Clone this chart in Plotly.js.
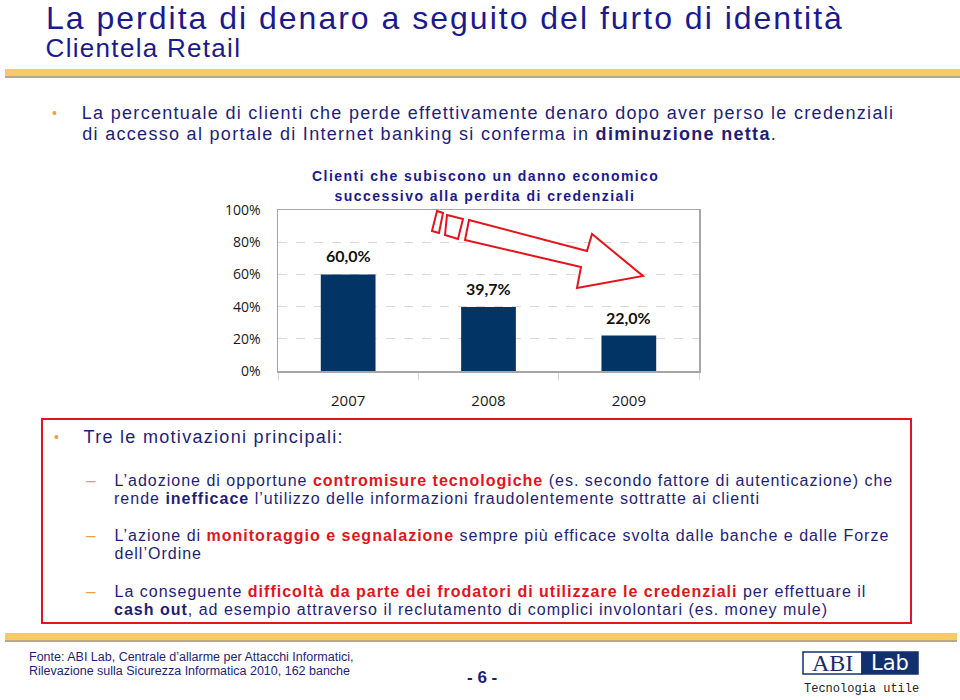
<!DOCTYPE html>
<html><head><meta charset="utf-8">
<script src="https://cdn.plot.ly/plotly-3.0.1.min.js"></script>
<style>
html,body{margin:0;padding:0;background:#fff}
#chart{width:960px;height:700px}
</style>
</head><body><div id="chart"></div>
<script>
// ---------- data ----------
const years = ['2007', '2008', '2009'];
const values = [60.0, 39.7, 22.0];
const yTickVals = [0, 20, 40, 60, 80, 100];
const yTickLabels = ['0%', '20%', '40%', '60%', '80%', '100%'];
const chartTitleLines = ['Clienti che subiscono un danno economico', 'successivo alla perdita di credenziali'];
const slideTitle = 'La perdita di denaro a seguito del furto di identità';
const slideSubtitle = 'Clientela Retail';
const footerLines = ['Fonte: ABI Lab, Centrale d’allarme per Attacchi Informatici,', 'Rilevazione sulla Sicurezza Informatica 2010, 162 banche'];
const pageNumber = '- 6 -';

// ---------- helpers ----------
const W = 960, H = 700;
const px = x => x / W;
const py = y => 1 - y / H;
const NAVY = '#1e1e7a', TITLE = '#1a1a8e', RED = '#e3141b', ORANGE = '#f0a040';
const red = s => `<b><span style="color:${RED}">${s}</span></b>`;

const annotations = [];
const spacing = [];
function txt(x, y, text, font, opts = {}, ls = 0) {
  annotations.push(Object.assign({
    xref: 'paper', yref: 'paper', x: px(x), y: py(y), text: text,
    showarrow: false, xanchor: 'left', yanchor: 'middle', font: font, borderpad: 0
  }, opts));
  spacing.push(ls);
}
const SANS = 'Liberation Sans, Arial, sans-serif';
const body = (size, color) => ({family: SANS, size: size, color: color || NAVY});

// slide title
txt(46, 18, slideTitle, {family: SANS, size: 32, color: TITLE}, {}, 2.0);
txt(46, 48, slideSubtitle, {family: SANS, size: 26, color: TITLE}, {}, 1.3);

// first bullet
txt(51, 113, '•', body(14, ORANGE));
txt(82, 113, 'La percentuale di clienti che perde effettivamente denaro dopo aver perso le credenziali', body(18), {}, 1.3);
txt(82, 134, 'di accesso al portale di Internet banking si conferma in <b>diminuzione netta</b>.', body(18), {}, 1.3);

// chart title
txt(485, 176, '<b>' + chartTitleLines[0] + '</b>', {family: SANS, size: 14, color: TITLE}, {xanchor: 'center'}, 1.45);
txt(485, 196, '<b>' + chartTitleLines[1] + '</b>', {family: SANS, size: 14, color: TITLE}, {xanchor: 'center'}, 1.45);

// second block
txt(53, 437, '•', body(14, ORANGE));
txt(83, 437, 'Tre le motivazioni principali:', body(18), {}, 1.3);
[480, 535, 591].forEach(y => txt(85, y, '–', body(17, ORANGE)));
txt(114, 480, 'L’adozione di opportune ' + red('contromisure tecnologiche') + ' (es. secondo fattore di autenticazione) che', body(16), {}, 1.0);
txt(114, 498, 'rende <b>inefficace</b> l’utilizzo delle informazioni fraudolentemente sottratte ai clienti', body(16), {}, 1.0);
txt(114, 535, 'L’azione di ' + red('monitoraggio e segnalazione') + ' sempre più efficace svolta dalle banche e dalle Forze', body(16), {}, 1.0);
txt(114, 553, 'dell’Ordine', body(16), {}, 1.0);
txt(114, 591, 'La conseguente ' + red('difficoltà da parte dei frodatori di utilizzare le credenziali') + ' per effettuare il', body(16), {}, 1.0);
txt(114, 609, '<b>cash out</b>, ad esempio attraverso il reclutamento di complici involontari (es. money mule)', body(16), {}, 1.0);

// footer
txt(28, 657, footerLines[0], {family: SANS, size: 12.5, color: NAVY});
txt(28, 671, footerLines[1], {family: SANS, size: 12.5, color: NAVY});
txt(482, 677, '<b>' + pageNumber + '</b>', {family: SANS, size: 17, color: NAVY}, {xanchor: 'center'});

// logo text
txt(832, 663, 'ABI', {family: 'Liberation Serif, Times New Roman, serif', size: 24, color: '#1a2a6e'}, {xanchor: 'center'});
txt(890, 663, 'Lab', {family: 'DejaVu Sans, sans-serif', size: 21, color: '#ffffff'}, {xanchor: 'center'});
txt(803, 689, 'Tecnologia utile', {family: 'Liberation Mono, DejaVu Sans Mono, monospace', size: 12, color: '#222222'});

// data labels (positioned from the data arrays through the axes)
years.forEach((yr, i) => {
  annotations.push({
    xref: 'x', yref: 'y', x: i, y: values[i], yanchor: 'bottom', yshift: 7,
    text: '<b>' + values[i].toFixed(1).replace('.', ',') + '%</b>', showarrow: false,
    font: {family: 'Lato, Open Sans, sans-serif', size: 16, color: '#111111'}
  });
  spacing.push(0);
});

// ---------- shapes ----------
const P = pts => 'M' + pts.map(p => px(p[0]).toFixed(5) + ',' + py(p[1]).toFixed(5)).join(' L') + ' Z';
const shapes = [
  {type: 'rect', xref: 'paper', yref: 'paper', x0: px(5), x1: px(960), y0: py(76), y1: py(78), fillcolor: '#b8a888', line: {width: 0}},
  {type: 'rect', xref: 'paper', yref: 'paper', x0: px(5), x1: px(960), y0: py(69), y1: py(76), fillcolor: '#f9c867', line: {width: 0}},
  {type: 'rect', xref: 'paper', yref: 'paper', x0: px(5), x1: px(957), y0: py(640), y1: py(642), fillcolor: '#b8a888', line: {width: 0}},
  {type: 'rect', xref: 'paper', yref: 'paper', x0: px(5), x1: px(957), y0: py(633), y1: py(640), fillcolor: '#f9c867', line: {width: 0}},
  {type: 'rect', xref: 'paper', yref: 'paper', x0: px(42), x1: px(911), y0: py(623), y1: py(419), line: {color: RED, width: 2}},
  {type: 'path', xref: 'paper', yref: 'paper', layer: 'above', fillcolor: '#ffffff', line: {color: RED, width: 2},
   path: P([[469, 220], [587, 251], [592, 234], [643, 276], [577, 288], [581, 267], [465, 240]])},
  {type: 'path', xref: 'paper', yref: 'paper', layer: 'above', fillcolor: '#ffffff', line: {color: RED, width: 2},
   path: P([[437, 211], [443, 213], [439, 233], [432, 231]])},
  {type: 'path', xref: 'paper', yref: 'paper', layer: 'above', fillcolor: '#ffffff', line: {color: RED, width: 2},
   path: P([[447, 215], [463, 219], [458, 239], [445, 235]])},
  {type: 'rect', xref: 'paper', yref: 'paper', x0: px(803), x1: px(862), y0: py(674), y1: py(652), fillcolor: '#ffffff', line: {color: '#13306e', width: 1.5}},
  {type: 'rect', xref: 'paper', yref: 'paper', x0: px(862), x1: px(918), y0: py(674), y1: py(652), fillcolor: '#13306e', line: {color: '#13306e', width: 1.5}}
];

// ---------- plot ----------
const trace = {
  type: 'bar', x: years, y: values, width: 0.39,
  marker: {color: '#023466'}, hoverinfo: 'skip'
};

const layout = {
  width: W, height: H,
  margin: {l: 0, r: 0, t: 0, b: 0},
  paper_bgcolor: '#ffffff', plot_bgcolor: '#ffffff',
  showlegend: false,
  separators: ',.',
  xaxis: {
    domain: [px(278), px(699)], type: 'category', range: [-0.5, 2.5], autorange: false,
    showline: true, linecolor: '#a6a6a6', linewidth: 1.5, mirror: true,
    ticks: 'outside', tickson: 'boundaries', ticklen: 7, tickcolor: '#d4d4d4',
    ticklabelstandoff: 15, tickangle: 0,
    tickfont: {family: 'Open Sans, Lato, sans-serif', size: 15, color: '#1a1a1a'},
    showgrid: false, fixedrange: true
  },
  yaxis: {
    domain: [py(371), py(210)], range: [0, 100], autorange: false,
    tickvals: yTickVals, ticktext: yTickLabels,
    showline: true, linecolor: '#a6a6a6', linewidth: 1.5, mirror: true,
    ticks: '', ticklabelstandoff: 13,
    showgrid: true, gridcolor: '#d9d9d9', griddash: 'dash', zeroline: false,
    tickfont: {family: 'Open Sans, Lato, sans-serif', size: 14, color: '#1a1a1a'},
    fixedrange: true
  },
  shapes: shapes,
  annotations: annotations
};

// letter spacing per annotation
const css = spacing.map((s, i) => s ? `#chart .annotation[data-index="${i}"] text{letter-spacing:${s}px}` : '').join('\n');
const st = document.createElement('style'); st.textContent = css; document.head.appendChild(st);

Plotly.newPlot('chart', [trace], layout, {displayModeBar: false, staticPlot: true}).then(gd => {
  // keep left-anchored, letter-spaced lines starting at their intended x
  const box = gd.getBoundingClientRect();
  const upd = {};
  spacing.forEach((s, i) => {
    if (!s || annotations[i].xanchor !== 'left') return;
    const t = gd.querySelector(`.annotation[data-index="${i}"] text`);
    if (!t) return;
    const left = t.getBoundingClientRect().left - box.left;
    const want = annotations[i].x * W;
    upd[`annotations[${i}].x`] = (want + (want - left)) / W;
  });
  if (Object.keys(upd).length) return Plotly.relayout(gd, upd);
});
</script>
</body></html>
